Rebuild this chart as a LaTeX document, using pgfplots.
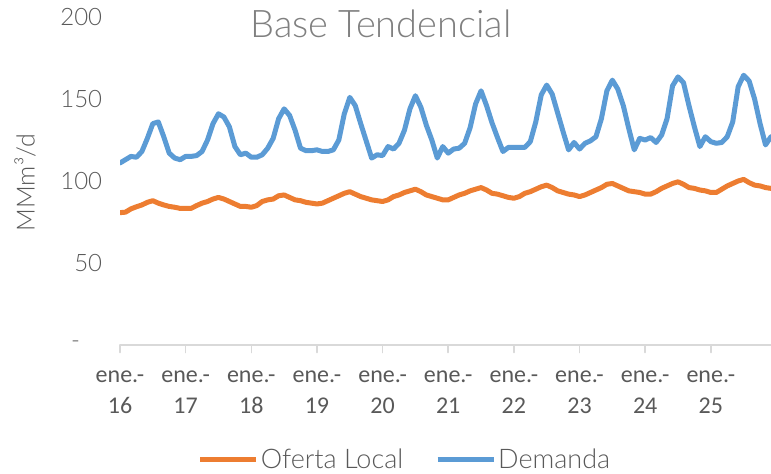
\documentclass[border=0pt]{standalone}
\usepackage{fontspec}
\setmainfont{Lato}
\newfontfamily\lightfont{Lato Light}
\newfontfamily\tickfont{Carlito}
\usepackage{pgfplots}
\pgfplotsset{compat=1.18}

\definecolor{demanda}{HTML}{5B9BD5}
\definecolor{oferta}{HTML}{ED7D31}
\definecolor{txt}{HTML}{595959}
\definecolor{ttl}{HTML}{808080}
\definecolor{axisgray}{HTML}{D9D9D9}

% mes (0 = ene-16), oferta local, demanda  [MMm3/d]
\pgfplotstableread{
m of de
0 80.7 111
1 81 113
2 83 115
3 84.3 114.5
4 85.4 118
5 87 126
6 88 135
7 86.5 136
8 85.4 127
9 84.5 117
10 84 114
11 83.3 113
12 83.3 115
13 83.3 115
14 85 115.5
15 86.5 118
16 87.5 125
17 89 135
18 90 141
19 89 139
20 87.5 133
21 86 121
22 84.5 116
23 84.5 117
24 84 114.5
25 85 114.5
26 87.5 116
27 88.5 120
28 89 126
29 91 138
30 91.5 144
31 90 140
32 88.5 131
33 88 120
34 87 118.5
35 86.5 118.5
36 86 119
37 86.5 118
38 88 118
39 89.5 119
40 91 125
41 92.5 141
42 93.5 151
43 92 146
44 90.5 135
45 89.5 124.5
46 88.5 114
47 88 116
48 87.5 115.5
49 88.5 121
50 90.5 119.5
51 91.5 123
52 93 131
53 94 144
54 95 152
55 93.5 145
56 91.5 134
57 90.5 125
58 89.5 114
59 88.5 121
60 88.5 117
61 90 119.5
62 91.5 120
63 92.5 123
64 94 132.5
65 95 147
66 96 155
67 94.5 146
68 92.5 135.5
69 92 126.5
70 91 118
71 90 120.5
72 89.5 120.5
73 90.5 120.5
74 92.5 120.5
75 93.5 124
76 95 136
77 96.5 152.5
78 97.5 158.5
79 96 153
80 94 141.5
81 93 130
82 92 119
83 91.5 123.5
84 90.5 119.5
85 91.5 123
86 93 124.5
87 94.5 127
88 96 138
89 98 155
90 98.5 161.5
91 97 156
92 95.5 146
93 94 132
94 93.5 119
95 93 126
96 92 125
97 92 126.5
98 93.5 123.5
99 95.5 128
100 97 138
101 98.5 158
102 99.5 163.5
103 98 160
104 96 146
105 95.5 133
106 94.5 121
107 94 127
108 93 124
109 93 123
110 95 123.5
111 97 127
112 98.5 136
113 100 157.5
114 101 164.5
115 99 161
116 97.5 150
117 97 135
118 96 122
119 95.5 127
}\datos

\begin{document}
\begin{tikzpicture}
% marco de la imagen: 771 x 473 px a 0.5pt por px
\useasboundingbox (0,0) rectangle (385.5pt,236.5pt);
\begin{axis}[
    at={(60pt,64pt)}, anchor=south west,
    scale only axis, width=325.5pt, height=164pt,
    xmin=0, xmax=119, ymin=0, ymax=200,
    axis x line*=bottom, axis y line*=left,
    x axis line style={-, draw=axisgray, line width=0.75pt},
    y axis line style={draw=none},
    xtick={0,12,...,108},
    xticklabels={ene.-\\16,ene.-\\17,ene.-\\18,ene.-\\19,ene.-\\20,
                 ene.-\\21,ene.-\\22,ene.-\\23,ene.-\\24,ene.-\\25},
    xtick pos=bottom, tick align=outside, major tick length=3.75pt,
    x tick style={draw=axisgray, line width=0.75pt},
    xticklabel style={align=center, anchor=north, inner sep=0pt, yshift=-9pt,
        text=txt, font=\tickfont\fontsize{12}{15.5}\selectfont},
    ytick={0,50,100,150,200},
    yticklabels={\makebox[15.5pt][l]{-},50,100,150,200},
    ytick style={draw=none},
    yticklabel style={anchor=east, inner sep=0pt, xshift=-5pt,
        text=txt, font=\lightfont\fontsize{12}{14}\selectfont},
    ylabel={MMm³/d},
    ylabel style={at={(axis description cs:-0.146,0.495)}, anchor=center,
        text=txt, font=\lightfont\fontsize{12.5}{14}\selectfont},
    legend style={at={(axis description cs:0.4378,-0.35)}, anchor=center,
        draw=none, fill=none, inner sep=0pt, text=txt,
        font=\lightfont\fontsize{13.5}{16}\selectfont,
        nodes={inner xsep=1pt, inner ysep=0pt},
        /tikz/every even column/.append style={column sep=15pt}},
    legend columns=2,
    legend image code/.code={\draw[#1] (0pt,0pt) -- (28pt,0pt);},
    line cap=round, line join=round,
]
\addplot[oferta, line width=2.5pt] table[x=m, y=of] {\datos};
\addplot[demanda, line width=2.5pt] table[x=m, y=de] {\datos};
\legend{Oferta Local, Demanda}
\end{axis}
% titulo
\node[anchor=base, inner sep=0pt, text=ttl, font=\lightfont\fontsize{19}{21}\selectfont]
    at (190.5pt,218pt) {Base Tendencial};
\end{tikzpicture}
\end{document}
